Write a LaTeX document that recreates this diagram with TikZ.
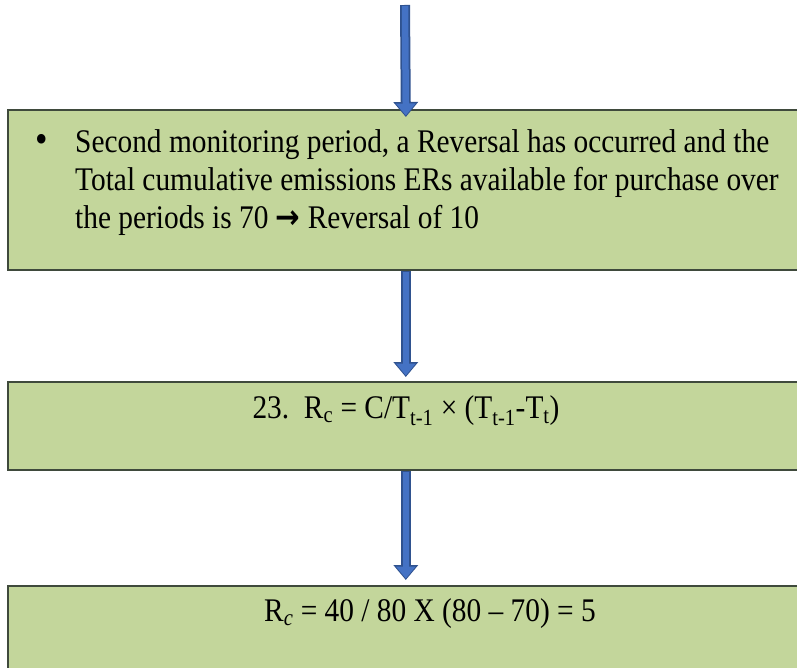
\documentclass[tikz,border=0pt]{standalone}
\usepackage{fontspec}
\setmainfont{Liberation Serif}[FakeStretch=0.89]
\newfontfamily\symfont{DejaVu Sans}[FakeStretch=0.89]
\usepackage{xcolor}
\usetikzlibrary{arrows.meta,positioning}

\definecolor{boxgreen}{HTML}{C3D69B}
\definecolor{boxline}{HTML}{3F4A3C}
\definecolor{arrfill}{HTML}{4472C4}
\definecolor{arrline}{HTML}{2F528F}

\begin{document}
\begin{tikzpicture}[
    x=1pt, y=1pt,
    stagebox/.style={
        rectangle, draw=boxline, fill=boxgreen, line width=1.6pt,
        anchor=north west, minimum width=796pt, minimum height=#1,
        inner sep=0pt,
    },
    stagetext/.style={
        inner sep=0pt, font=\fontsize{33}{38}\selectfont,
    },
    arrout/.style={draw=arrline, line width=10pt,
        -{Triangle[width=24pt, length=15pt]}},
    arrin/.style={draw=arrfill, line width=6.5pt,
        -{Triangle[width=19pt, length=12pt]}},
]
\useasboundingbox (0,0) rectangle (797,-668);
\clip (0,0) rectangle (797,-668);

% Boxes
\node[stagebox=160pt] (box1) at (7,-109) {};
\node[stagebox=88pt] (box2) at (7,-381) {};
\node[stagebox=100pt] (box3) at (7,-585) {};

% Texts
\node[stagetext, anchor=north west, align=left] (txt1) at (75,-129)
    {\llap{\makebox[40pt][l]{\fontsize{40}{38}\selectfont\textbullet}}Second monitoring period, a Reversal has occurred and the\\
     Total cumulative emissions ERs available for purchase over\\
     the periods is 70 {\symfont\bfseries →} Reversal of 10};
\node[stagetext] (txt2) at (406,-411)
    {23.\ \ R\textsubscript{c} = C/T\textsubscript{t-1} × (T\textsubscript{t-1}-T\textsubscript{t})};
\node[stagetext] (txt3) at (430,-614)
    {R\textsubscript{\itshape c} = 40 / 80 X (80 – 70) = 5};

% Arrows
\coordinate (top) at (405,-5);
\draw[arrout, shorten >=-8pt] (top) -- (box1.north);
\draw[arrin, shorten >=-6.5pt] ([yshift=-1pt]top) -- (box1.north);
\draw[arrout, shorten >=4pt] (box1.south) -- (box2.north);
\draw[arrin, shorten >=5.5pt] ([yshift=-1pt]box1.south) -- (box2.north);
\draw[arrout, shorten >=5pt] (box2.south) -- (box3.north);
\draw[arrin, shorten >=6.5pt] ([yshift=-1pt]box2.south) -- (box3.north);

\end{tikzpicture}
\end{document}
